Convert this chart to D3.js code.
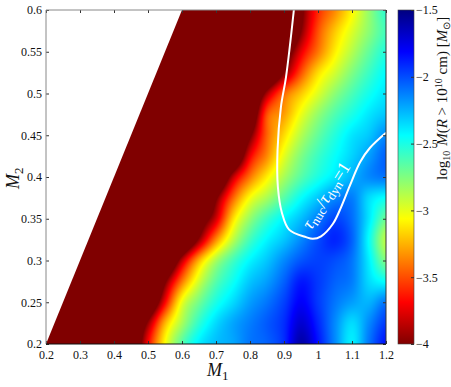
<meta charset="utf-8">
<html>
<head>
<script src="https://cdnjs.cloudflare.com/ajax/libs/d3/7.8.5/d3.min.js"></script>
<style>
body { margin: 0; background: #fff; }
svg text { font-family: "Liberation Serif", serif; fill: #111; }
.axis path { display: none; }
.axis line { stroke: #333; }
.axis text { font-size: 12px; }
</style>
</head>
<body>
<svg id="chart" width="451" height="387"></svg>
<script>
// values, log10 M(R > 1e10 cm)
var m1Values = [0.45, 0.5, 0.55, 0.6, 0.65, 0.7, 0.75, 0.8, 0.85, 0.9, 0.95, 1.0, 1.05, 1.1, 1.15, 1.2];
var m2Values = [0.2, 0.225, 0.25, 0.275, 0.3, 0.325, 0.35, 0.375, 0.4, 0.425, 0.45, 0.475, 0.5, 0.525, 0.55, 0.575, 0.6];
var massGrid = [
	[-4.5, -3.69, -3.06, -2.65, -2.4, -2.28, -2.22, -2.1, -2.05, -1.92, -1.6, -1.85, -2.15, -2.4, -2.1, -1.85],
	[-4.6, -3.95, -3.25, -2.85, -2.55, -2.35, -2.22, -2.12, -2.03, -1.92, -1.7, -1.9, -2.15, -2.35, -2.15, -1.95],
	[-5, -4.5, -3.7, -3.02, -2.72, -2.5, -2.35, -2.2, -2.1, -1.97, -1.8, -1.95, -2.1, -2.2, -2.25, -2.1],
	[-5, -4.9, -4.05, -3.4, -2.95, -2.65, -2.47, -2.3, -2.2, -2.05, -1.87, -1.95, -2.05, -2.12, -2.35, -2.45],
	[-5, -5, -4.6, -3.85, -3.25, -2.85, -2.6, -2.42, -2.3, -2.15, -2.02, -1.97, -2.0, -2.1, -2.4, -2.75],
	[-5, -5, -5, -4.6, -3.95, -3.35, -2.9, -2.6, -2.42, -2.3, -2.15, -2.0, -1.9, -2.05, -2.45, -2.9],
	[-5, -5, -5, -5, -4.3, -3.8, -3.15, -2.8, -2.58, -2.42, -2.28, -2.12, -1.98, -2.08, -2.38, -2.7],
	[-5, -5, -5, -5, -4.8, -4.05, -3.45, -3.05, -2.85, -2.65, -2.45, -2.3, -2.15, -2.12, -2.35, -2.45],
	[-5, -5, -5, -5, -5, -4.6, -3.85, -3.4, -3.1, -2.85, -2.65, -2.5, -2.38, -2.25, -2.15, -2.1],
	[-5, -5, -5, -5, -5, -5, -4.5, -3.72, -3.35, -3.0, -2.75, -2.58, -2.45, -2.33, -2.2, -2.05],
	[-5, -5, -5, -5, -5, -5, -4.7, -4.05, -3.45, -3.15, -2.88, -2.68, -2.52, -2.38, -2.3, -2.15],
	[-5, -5, -5, -5, -5, -5, -5, -4.4, -3.5, -3.3, -3.02, -2.8, -2.63, -2.5, -2.38, -2.3],
	[-5, -5, -5, -5, -5, -5, -5, -4.6, -3.9, -3.45, -3.2, -2.98, -2.78, -2.62, -2.48, -2.38],
	[-5, -5, -5, -5, -5, -5, -5, -5, -4.6, -4.0, -3.5, -3.15, -2.95, -2.75, -2.58, -2.44],
	[-5, -5, -5, -5, -5, -5, -5, -5, -5, -4.3, -3.75, -3.4, -3.1, -2.88, -2.68, -2.52],
	[-5, -5, -5, -5, -5, -5, -5, -5, -5, -4.7, -4.0, -3.5, -3.2, -2.98, -2.78, -2.6],
	[-5, -5, -5, -5, -5, -5, -5, -5, -5, -5, -4.1, -3.6, -3.35, -3.08, -2.8, -2.55]
];

// tau_nuc / tau_dyn = 1 line
var contourM1 = [0.929, 0.906, 0.891, 0.881, 0.882, 0.894, 0.915, 0.965, 0.985, 1.009, 1.044, 1.068, 1.094, 1.124, 1.153, 1.2];
var contourM2 = [0.6, 0.52, 0.484, 0.432, 0.388, 0.357, 0.337, 0.328, 0.326, 0.329, 0.344, 0.364, 0.39, 0.418, 0.435, 0.453];

var xTicks = [0.2, 0.3, 0.4, 0.5, 0.6, 0.7, 0.8, 0.9, 1, 1.1, 1.2];
var yTicks = [0.2, 0.25, 0.3, 0.35, 0.4, 0.45, 0.5, 0.55, 0.6];
var barTicks = [-1.5, -2, -2.5, -3, -3.5, -4];
var jetColors = ["#000080", "#0000ff", "#00ffff", "#ffff00", "#ff0000", "#800000"];
var jetStops = [0, 0.125, 0.375, 0.625, 0.875, 1];

var left = 46, right = 386, top_ = 10, bottom = 344;
var barLeft = 398, barRight = 414;

var svg = d3.select("#chart");
var x = d3.scaleLinear().domain([0.2, 1.2]).range([left, right]);
var y = d3.scaleLinear().domain([0.2, 0.6]).range([bottom, top_]);
var barY = d3.scaleLinear().domain([-4, -1.5]).range([bottom, top_]);
var jet = d3.scaleLinear()
	.domain(jetStops.map(function(p) { return -1.5 - p * 2.5; }))
	.range(jetColors)
	.clamp(true);

function catmull(a, b, c, d, t) {
	return 0.5 * (2 * b + (c - a) * t + (2 * a - 5 * b + 4 * c - d) * t * t + (3 * b - a - 3 * c + d) * t * t * t);
}

function cellValue(r, c) {
	r = Math.max(0, Math.min(m2Values.length - 1, r));
	if (c < 0) return -5;
	c = Math.min(m1Values.length - 1, c);
	return massGrid[r][c];
}

function massAt(m1, m2) {
	var cf = (m1 - m1Values[0]) / 0.05, rf = (m2 - m2Values[0]) / 0.025;
	var c = Math.floor(cf), r = Math.floor(rf), tc = cf - c, tr = rf - r, col = [];
	for (var i = -1; i <= 2; i++) {
		col.push(catmull(cellValue(r + i, c - 1), cellValue(r + i, c), cellValue(r + i, c + 1), cellValue(r + i, c + 2), tc));
	}
	return catmull(col[0], col[1], col[2], col[3], tr);
}

// heat map goes to a canvas first and then into the svg as an image
var w = right - left, h = bottom - top_;
var canvas = document.createElement("canvas");
canvas.width = w; canvas.height = h;
var context = canvas.getContext("2d");
var pixels = context.createImageData(w, h);
for (var py = 0; py < h; py++) {
	for (var px = 0; px < w; px++) {
		var col = d3.rgb(jet(massAt(x.invert(left + px + 0.5), y.invert(top_ + py + 0.5))));
		var pos = 4 * (px + w * py);
		pixels.data[pos] = col.r;
		pixels.data[pos + 1] = col.g;
		pixels.data[pos + 2] = col.b;
		pixels.data[pos + 3] = 255;
	}
}
context.putImageData(pixels, 0, 0);

var defs = svg.append("defs");
// nothing is drawn above M2 = M1
defs.append("clipPath").attr("id", "massClip").append("path")
	.attr("d", d3.line()([[x(0.2), y(0.2)], [x(0.6), y(0.6)], [x(1.2), y(0.6)], [x(1.2), y(0.2)]]) + "Z");

svg.append("image")
	.attr("x", left).attr("y", top_)
	.attr("width", w).attr("height", h)
	.attr("href", canvas.toDataURL())
	.attr("clip-path", "url(#massClip)");

// white contour
var contourLine = d3.line()
	.x(function(d, i) { return x(contourM1[i]); })
	.y(function(d, i) { return y(contourM2[i]); })
	.curve(d3.curveCatmullRom.alpha(0.5));
svg.append("path")
	.attr("d", contourLine(contourM1))
	.attr("fill", "none").attr("stroke", "#fff").attr("stroke-width", 2);

// label along the contour
var tauLabel = svg.append("text")
	.attr("transform", "translate(" + x(0.98) + "," + y(0.336) + ") rotate(-58)")
	.style("fill", "#fff").style("font-size", "18px");
tauLabel.append("tspan").attr("font-style", "italic").text("τ");
tauLabel.append("tspan").attr("dy", 3).attr("font-size", 13).text("nuc");
tauLabel.append("tspan").attr("dy", -3).text("/");
tauLabel.append("tspan").attr("font-style", "italic").text("τ");
tauLabel.append("tspan").attr("dy", 3).attr("font-size", 13).text("dyn");
tauLabel.append("tspan").attr("dy", -3).text("=1");

// axes, ticks point into the plot
var fmt = function(d) { return String(d); };
svg.append("g").attr("class", "axis").attr("transform", "translate(0," + bottom + ")")
	.call(d3.axisBottom(x).tickValues(xTicks).tickFormat(fmt).tickSize(-3).tickPadding(6));
svg.append("g").attr("class", "axis").attr("transform", "translate(0," + top_ + ")")
	.call(d3.axisTop(x).tickValues(xTicks).tickFormat("").tickSize(-3));
svg.append("g").attr("class", "axis").attr("transform", "translate(" + left + ",0)")
	.call(d3.axisLeft(y).tickValues(yTicks).tickFormat(fmt).tickSize(-3).tickPadding(4));
svg.append("g").attr("class", "axis").attr("transform", "translate(" + right + ",0)")
	.call(d3.axisRight(y).tickValues(yTicks).tickFormat("").tickSize(-3));

svg.append("line").attr("x1", left).attr("x2", right).attr("y1", top_).attr("y2", top_).attr("stroke", "#888");
svg.append("line").attr("x1", left).attr("x2", left).attr("y1", top_).attr("y2", bottom).attr("stroke", "#888");
svg.append("line").attr("x1", left).attr("x2", right).attr("y1", bottom).attr("y2", bottom).attr("stroke", "#111");
svg.append("line").attr("x1", right).attr("x2", right).attr("y1", top_).attr("y2", bottom).attr("stroke", "#333");

// axis titles
var m1Label = svg.append("text").attr("x", 207).attr("y", 376).style("font-size", "18px");
m1Label.append("tspan").attr("font-style", "italic").text("M");
m1Label.append("tspan").attr("dy", 4).attr("font-size", 13).text("1");
var m2Label = svg.append("text").attr("transform", "translate(19,189) rotate(-90)").style("font-size", "18px");
m2Label.append("tspan").attr("font-style", "italic").text("M");
m2Label.append("tspan").attr("dy", 4).attr("font-size", 13).text("2");

// colour bar
var grad = defs.append("linearGradient").attr("id", "jetBar")
	.attr("x1", 0).attr("x2", 0).attr("y1", 0).attr("y2", 1);
jetStops.forEach(function(p, i) {
	grad.append("stop").attr("offset", p).attr("stop-color", jetColors[i]);
});
svg.append("rect")
	.attr("x", barLeft).attr("y", top_)
	.attr("width", barRight - barLeft).attr("height", h)
	.attr("fill", "url(#jetBar)").attr("stroke", "#444").attr("stroke-width", 0.6);
var barAxis = svg.append("g").attr("class", "axis").attr("transform", "translate(" + barRight + ",0)")
	.call(d3.axisRight(barY).tickValues(barTicks).tickFormat(function(d) { return "\u2212" + Math.abs(d); }).tickSize(-3).tickPadding(2));
barAxis.selectAll("text").style("font-size", "12px");

var barLabel = svg.append("text").attr("transform", "translate(447,180) rotate(-90)").style("font-size", "15px");
barLabel.append("tspan").text("log");
barLabel.append("tspan").attr("dy", 3).attr("font-size", 10).text("10");
barLabel.append("tspan").attr("dy", -3).attr("dx", 5).attr("font-style", "italic").text("M");
barLabel.append("tspan").text("(");
barLabel.append("tspan").attr("font-style", "italic").text("R");
barLabel.append("tspan").text(" > 10");
barLabel.append("tspan").attr("dy", -5).attr("font-size", 10).text("10");
barLabel.append("tspan").attr("dy", 5).text(" cm) [");
barLabel.append("tspan").attr("font-style", "italic").text("M");
barLabel.append("tspan").attr("dy", 3).attr("font-size", 10).text("\u2299");
barLabel.append("tspan").attr("dy", -3).text("]");
</script>
</body>
</html>
